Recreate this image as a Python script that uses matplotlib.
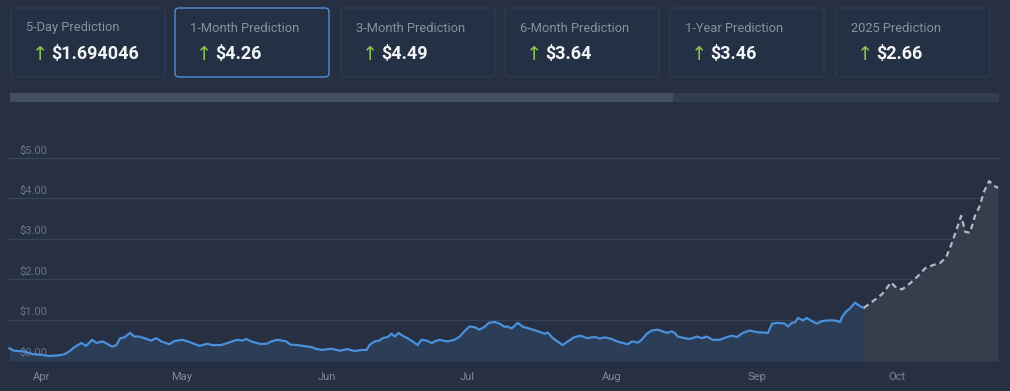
import matplotlib.pyplot as plt
import matplotlib.dates as mdates
from matplotlib.patches import FancyBboxPatch, Rectangle
import pandas as pd

plt.rcParams['font.family'] = ['Roboto', 'DejaVu Sans']

# summary cards
card_titles = ["5-Day Prediction", "1-Month Prediction", "3-Month Prediction",
               "6-Month Prediction", "1-Year Prediction", "2025 Prediction"]
card_values = ["$1.694046", "$4.26", "$4.49", "$3.64", "$3.46", "$2.66"]

# price history (days counted from 1 Apr 2024)
hist_days = [-6.8, -5.8, -3.6, -1.9, 0.2, 1.7, 3.4, 4.9, 6.0, 7.1, 8.6, 9.6, 10.9, 11.8,
             13.1, 14.1, 15.2, 16.1, 16.9, 17.8, 19.0, 19.9, 21.0, 22.3, 23.5, 24.6, 25.7,
             27.4, 28.5, 30.2, 31.3, 32.3, 33.8, 35.5, 36.6, 38.5, 39.8, 40.9, 41.9, 43.0,
             43.9, 44.9, 46.7, 48.2, 49.2, 50.5, 52.4, 53.3, 54.6, 55.9, 57.8, 58.9, 60.1,
             62.1, 63.8, 65.5, 67.0, 68.5, 69.6, 70.2, 71.3, 72.3, 73.0, 74.1, 74.9, 75.6,
             76.4, 77.3, 78.3, 79.4, 80.5, 81.3, 82.4, 83.5, 84.3, 85.2, 86.3, 86.9, 88.4,
             89.5, 90.5, 91.6, 92.7, 93.7, 94.8, 95.7, 97.0, 98.0, 99.1, 99.7, 100.6, 101.9,
             103.0, 104.0, 105.1, 106.2, 107.7, 108.3, 109.4, 110.4, 111.5, 112.6, 114.1,
             115.4, 116.7, 118.4, 119.4, 120.5, 122.0, 123.1, 124.1, 125.4, 126.3, 127.6,
             128.4, 129.5, 130.6, 131.8, 132.9, 133.8, 134.8, 135.5, 136.1, 137.6, 138.7,
             140.2, 141.3, 142.3, 143.6, 145.1, 146.4, 147.7, 148.8, 150.0, 151.5, 153.0,
             154.3, 155.4, 156.3, 157.5, 159.0, 159.7, 160.5, 161.2, 161.8, 162.9, 163.7,
             164.8, 165.9, 166.9, 168.2, 169.7, 170.8, 171.3, 172.2, 172.9, 174.0, 175.1,
             175.9]
hist_price = [0.29, 0.23, 0.21, 0.15, 0.125, 0.10, 0.11, 0.14, 0.21, 0.32, 0.42, 0.35, 0.50,
              0.42, 0.46, 0.40, 0.33, 0.37, 0.54, 0.56, 0.67, 0.58, 0.58, 0.53, 0.48, 0.54,
              0.46, 0.39, 0.47, 0.50, 0.46, 0.42, 0.35, 0.40, 0.37, 0.37, 0.42, 0.46, 0.50,
              0.48, 0.52, 0.46, 0.40, 0.40, 0.46, 0.50, 0.46, 0.38, 0.37, 0.35, 0.32, 0.27,
              0.25, 0.28, 0.23, 0.27, 0.22, 0.25, 0.25, 0.37, 0.46, 0.48, 0.54, 0.57, 0.65,
              0.58, 0.67, 0.60, 0.54, 0.46, 0.37, 0.50, 0.48, 0.42, 0.47, 0.50, 0.47, 0.46,
              0.50, 0.58, 0.71, 0.83, 0.81, 0.75, 0.82, 0.92, 0.94, 0.90, 0.82, 0.83, 0.78,
              0.92, 0.82, 0.79, 0.75, 0.71, 0.65, 0.68, 0.54, 0.46, 0.37, 0.46, 0.57, 0.60,
              0.54, 0.57, 0.53, 0.56, 0.52, 0.46, 0.43, 0.39, 0.46, 0.43, 0.50, 0.65, 0.73,
              0.75, 0.71, 0.67, 0.71, 0.67, 0.58, 0.54, 0.52, 0.58, 0.54, 0.58, 0.50, 0.50,
              0.56, 0.60, 0.57, 0.67, 0.73, 0.69, 0.68, 0.67, 0.90, 0.92, 0.90, 0.83, 0.92,
              0.93, 1.04, 0.98, 1.04, 0.96, 0.90, 0.96, 0.98, 0.98, 0.94, 1.08, 1.21, 1.27,
              1.42, 1.33, 1.29]

# forecast
pred_days = [175.9, 177.9, 179.8, 181.7, 183.0, 184.1, 185.8, 187.5, 189.0, 190.7, 192.2,
             193.5, 194.8, 195.9, 196.7, 197.6, 198.6, 199.7, 200.6, 201.6, 202.7, 203.6,
             204.6]
pred_price = [1.29, 1.46, 1.63, 1.92, 1.77, 1.75, 1.90, 2.08, 2.27, 2.35, 2.40, 2.54, 2.92,
              3.29, 3.57, 3.17, 3.15, 3.58, 3.79, 4.17, 4.43, 4.32, 4.26]

y_ticks = [0, 1, 2, 3, 4, 5]

start = pd.Timestamp("2024-04-01")
hist_dates = start + pd.to_timedelta(hist_days, unit="D")
pred_dates = start + pd.to_timedelta(pred_days, unit="D")

bg = "#263042"
fig = plt.figure(figsize=(10.1, 3.91), dpi=100, facecolor=bg)

# overlay in pixel coords for the cards and scrollbar
top = fig.add_axes([0, 0, 1, 1])
top.set_xlim(0, 1010)
top.set_ylim(391, 0)
top.axis("off")

card_x = [11, 175, 341, 505, 670, 836]
for i, (t, v) in enumerate(zip(card_titles, card_values)):
    x0 = card_x[i]
    edge = "#4f8fd6" if i == 1 else "#2f3b4e"
    top.add_patch(FancyBboxPatch((x0, 8), 154, 69, boxstyle="round,pad=0,rounding_size=4",
                                 fc="#243043", ec=edge, lw=1))
    top.text(x0 + 15, 28, t, color="#8791a2", fontsize=9.3, va="center", ha="left")
    top.text(x0 + 21, 54, "↑", color="#8bc34a", fontsize=14, va="center", ha="left",
             family=["DejaVu Sans"])
    top.text(x0 + 40, 54, v, color="#f2f4f7", fontsize=13, fontweight="bold",
             va="center", ha="left")

top.add_patch(Rectangle((10, 93), 989, 9, fc="#323e50", ec="none"))
top.add_patch(Rectangle((10, 93), 663, 9, fc="#434e5f", ec="none"))

# main chart
ax = fig.add_axes([8 / 1010, 30 / 391, 991 / 1010, 243 / 391])
ax.set_facecolor(bg)
ax.set_ylim(-0.025, 5.99)
ax.set_xlim(start + pd.Timedelta(days=-7.1), start + pd.Timedelta(days=204.8))

for v in y_ticks[1:]:
    ax.axhline(v, color="#36435a", lw=0.9, zorder=1)
    ax.annotate(f"${v:.2f}", xy=(0, v), xycoords=("axes fraction", "data"),
                xytext=(11, 2.5), textcoords="offset pixels", color="#677387",
                fontsize=8, va="bottom", ha="left", zorder=1)
ax.annotate("$0.00", xy=(0, 0), xycoords=("axes fraction", "data"),
            xytext=(11, 2.5), textcoords="offset pixels", color="#677387",
            fontsize=8, va="bottom", ha="left", zorder=2)

ax.fill_between(hist_dates, hist_price, -0.025, color="#2b3d57", lw=0, zorder=1.5)
ax.fill_between(pred_dates, pred_price, -0.025, color="#343e4d", lw=0, zorder=1.5)
ax.plot(hist_dates, hist_price, color="#4a90dc", lw=1.6, zorder=3)
ax.plot(pred_dates, pred_price, color="#b4b8bf", lw=1.6, ls=(0, (2.6, 1.8)), zorder=3)

ax.xaxis.set_major_locator(mdates.MonthLocator())
ax.xaxis.set_major_formatter(mdates.DateFormatter("%b"))
ax.tick_params(axis="x", length=0, pad=8, colors="#7c879a", labelsize=8)
ax.set_yticks([])
for s in ax.spines.values():
    s.set_visible(False)

fig.savefig("out.png", dpi=100, facecolor=bg)
